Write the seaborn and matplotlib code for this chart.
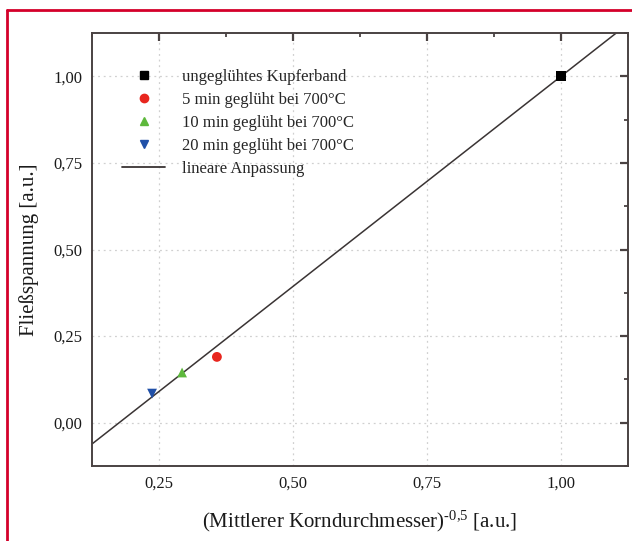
import numpy as np
import pandas as pd
import matplotlib
matplotlib.use("Agg")
import matplotlib.pyplot as plt
import seaborn as sns
from matplotlib.lines import Line2D
from matplotlib.ticker import FuncFormatter, MultipleLocator

# data
series = ['ungeglühtes Kupferband', '5 min geglüht bei 700°C',
          '10 min geglüht bei 700°C', '20 min geglüht bei 700°C']
korn_x = [1.0, 0.358, 0.293, 0.237]
spannung_y = [1.0, 0.19, 0.145, 0.084]
markers = ['s', 'o', '^', 'v']
colors = ['#000000', '#e8261e', '#5db83c', '#2050a8']
fit_slope = 1.213
fit_intercept = -0.213
xticks = [0.25, 0.50, 0.75, 1.00]
yticks = [0.00, 0.25, 0.50, 0.75, 1.00]

sns.set_style('white')
plt.rcParams['font.family'] = ['Liberation Serif', 'DejaVu Serif']
plt.rcParams['mathtext.fontset'] = 'custom'
plt.rcParams['mathtext.rm'] = 'Liberation Serif'
plt.rcParams['mathtext.it'] = 'Liberation Serif:italic'

df = pd.DataFrame({'x': korn_x, 'y': spannung_y, 'serie': series})

fig = plt.figure(figsize=(6.32, 5.41), dpi=100)
ax = fig.add_axes([0.1456, 0.1386, 0.8481, 0.8004])

xlim = (0.125, 1.125)
ylim = (-0.125, 1.125)
fit_x = np.linspace(xlim[0], xlim[1], 50)
fit_df = pd.DataFrame({'x': fit_x, 'y': fit_slope * fit_x + fit_intercept})
sns.lineplot(data=fit_df, x='x', y='y', color='#3a3434', linewidth=1.1, ax=ax, zorder=2)

sns.scatterplot(data=df, x='x', y='y', hue='serie', style='serie',
                hue_order=series, style_order=series,
                palette=colors, markers=markers, s=50, edgecolor='none',
                legend=False, ax=ax, zorder=3)

ax.set_xlim(*xlim)
ax.set_ylim(*ylim)
ax.set_xticks(xticks)
ax.set_yticks(yticks)
ax.xaxis.set_minor_locator(MultipleLocator(0.125))
ax.yaxis.set_minor_locator(MultipleLocator(0.125))
fmt = FuncFormatter(lambda v, p: f'{v:.2f}'.replace('.', ','))
ax.xaxis.set_major_formatter(fmt)
ax.yaxis.set_major_formatter(fmt)
ax.grid(True, which='major', linestyle=(0, (1.5, 3)), color='#d0d0d0', linewidth=0.9)
ax.set_axisbelow(True)

spine_col = '#4a4242'
for s in ax.spines.values():
    s.set_color(spine_col)
    s.set_linewidth(1.4)
ax.tick_params(which='major', direction='in', length=6, width=1.6, color=spine_col,
               top=True, right=True, labelsize=12, pad=7, labelcolor='#1a1a1a')
ax.tick_params(which='minor', direction='in', length=3, width=1.3, color=spine_col,
               top=True, right=True)

ax.set_xlabel(r'(Mittlerer Korndurchmesser)$^{\text{-0,5}}$ [a.u.]',
              fontsize=15, labelpad=12, color='#1a1a1a')
ax.set_ylabel('Fließspannung [a.u.]', fontsize=15, labelpad=10, color='#1a1a1a')

handles = [Line2D([], [], linestyle='none', marker=m, color=c, markersize=6)
           for m, c in zip(markers, colors)]
handles.append(Line2D([], [], color='#3a3434', linewidth=1.3))
ax.legend(handles, series + ['lineare Anpassung'], loc='upper left',
          bbox_to_anchor=(0.056, 0.918), frameon=False, fontsize=12,
          handlelength=2.6, handletextpad=1.0, labelspacing=0.42,
          borderaxespad=0, borderpad=0)

# red frame of the page
red = '#d4002a'
fig.add_artist(Line2D([7 / 632, 1.0], [1 - 10 / 541, 1 - 10 / 541],
                      transform=fig.transFigure, color=red, linewidth=2.0))
fig.add_artist(Line2D([7 / 632, 7 / 632], [0.0, 1 - 10 / 541],
                      transform=fig.transFigure, color=red, linewidth=2.0))

fig.savefig('out.png', dpi=100)
plt.close(fig)
